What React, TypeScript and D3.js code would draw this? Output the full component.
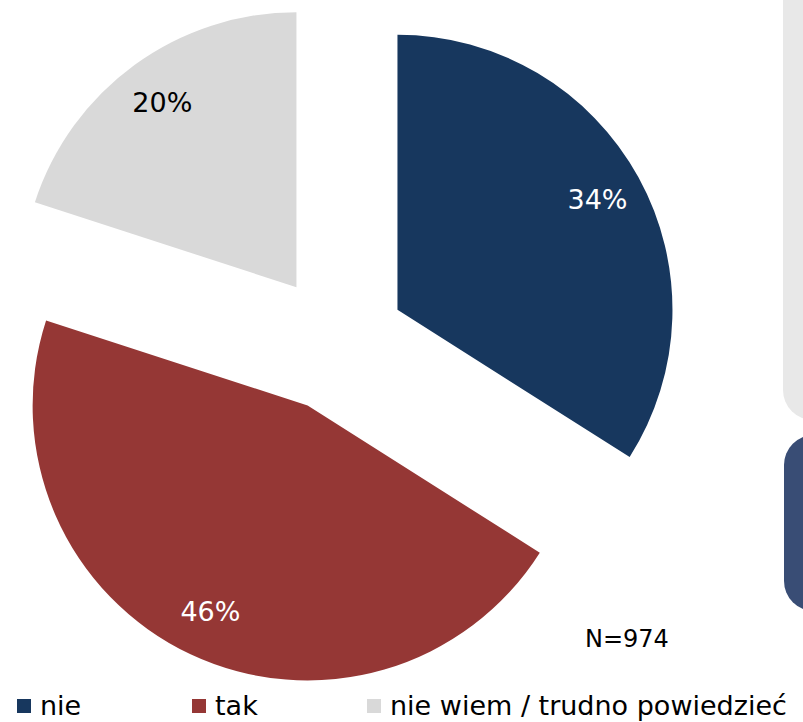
import React from "react";
import * as d3 from "d3";

const categories = ["nie", "tak", "nie wiem / trudno powiedzieć"];
const values = [34, 46, 20];
const colors = ["#17375E", "#953735", "#D9D9D9"];
const labelColors = ["#ffffff", "#ffffff", "#000000"];
const sampleNote = "N=974";

const W = 803;
const H = 722;
const FONT = "'DejaVu Sans', Verdana, sans-serif";

export default function App() {
  const cx = 337;
  const cy = 343;
  const r = 275;
  const explode = 69;

  const pie = d3
    .pie<number>()
    .sort(null)
    .startAngle(0)
    .endAngle(2 * Math.PI)
    .value((d) => d);
  const arcs = pie(values);
  const arcGen = d3.arc<d3.PieArcDatum<number>>().innerRadius(0).outerRadius(r);
  const labelArc = d3
    .arc<d3.PieArcDatum<number>>()
    .innerRadius(r * 0.83)
    .outerRadius(r * 0.83);

  const legendX = d3.scalePoint<string>().domain(categories).range([17, 367]);

  return (
    <div style={{ position: "absolute", left: 0, top: 0 }}>
      <svg width={W} height={H} style={{ display: "block" }}>
        <rect x={0} y={0} width={W} height={H} fill="#ffffff" />
        {/* decorative side panels */}
        <rect x={783} y={-60} width={80} height={480} rx={30} fill="#E8E8E8" />
        <rect x={784} y={435} width={80} height={176} rx={30} fill="#394D75" />
        <g transform={`translate(${cx},${cy})`}>
          {arcs.map((a, i) => {
            const mid = (a.startAngle + a.endAngle) / 2;
            const dx = Math.sin(mid) * explode;
            const dy = -Math.cos(mid) * explode;
            const [lx, ly] = labelArc.centroid(a);
            return (
              <g key={categories[i]} transform={`translate(${dx},${dy})`}>
                <path d={arcGen(a) || ""} fill={colors[i]} />
                <text
                  x={lx}
                  y={ly}
                  textAnchor="middle"
                  dominantBaseline="central"
                  fontFamily={FONT}
                  fontSize={27}
                  fill={labelColors[i]}
                >
                  {values[i]}%
                </text>
              </g>
            );
          })}
        </g>
        <text x={585} y={647} fontFamily={FONT} fontSize={24} fill="#000000">
          {sampleNote}
        </text>
        <g>
          {categories.map((c, i) => {
            const x = legendX(c) as number;
            return (
              <g key={c} transform={`translate(${x},699)`}>
                <rect x={0} y={0} width={14} height={14} fill={colors[i]} />
                <text x={23} y={16} fontFamily={FONT} fontSize={27} fill="#000000">
                  {c}
                </text>
              </g>
            );
          })}
        </g>
      </svg>
    </div>
  );
}
